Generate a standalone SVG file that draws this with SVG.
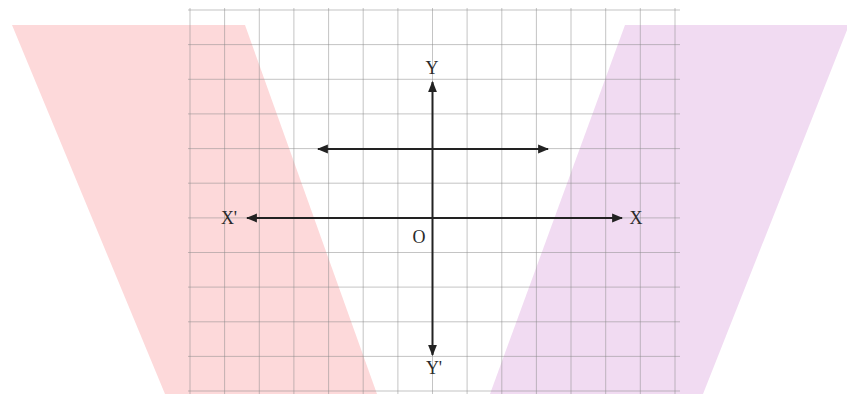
<svg xmlns="http://www.w3.org/2000/svg" width="847" height="394" viewBox="0 0 847 394">
<style>
.grid line{stroke:#8a8a8a;stroke-width:1;stroke-opacity:0.5}
.axis{stroke:#222;stroke-width:2;fill:none}
.lbl{font-family:"Liberation Serif",serif;font-size:18px;fill:#2a2a2a;text-anchor:middle}
</style>
<defs>
<marker id="ah" viewBox="0 0 10 10" refX="9" refY="5" markerWidth="11" markerHeight="11" markerUnits="userSpaceOnUse" orient="auto-start-reverse">
<path d="M0,1 L10,5 L0,9 Z" fill="#222"/>
</marker>
</defs>
<rect width="847" height="394" fill="#fff"/>
<g id="regions">
<polygon id="pink" points="12,25 245,25 377,394 165,394" fill="#fdd9da"/>
<polygon id="purple" points="625,25 849,25 703,394 490,394" fill="#f1dbf2"/>
</g>
<g id="grid" class="grid">
<line x1="190" y1="8" x2="190" y2="394"/>
<line x1="224.6" y1="8" x2="224.6" y2="394"/>
<line x1="259.3" y1="8" x2="259.3" y2="394"/>
<line x1="293.9" y1="8" x2="293.9" y2="394"/>
<line x1="328.6" y1="8" x2="328.6" y2="394"/>
<line x1="363.2" y1="8" x2="363.2" y2="394"/>
<line x1="397.9" y1="8" x2="397.9" y2="394"/>
<line x1="432.5" y1="8" x2="432.5" y2="394"/>
<line x1="467.1" y1="8" x2="467.1" y2="394"/>
<line x1="501.8" y1="8" x2="501.8" y2="394"/>
<line x1="536.4" y1="8" x2="536.4" y2="394"/>
<line x1="571" y1="8" x2="571" y2="394"/>
<line x1="605.7" y1="8" x2="605.7" y2="394"/>
<line x1="640.3" y1="8" x2="640.3" y2="394"/>
<line x1="675" y1="8" x2="675" y2="394"/>
<line x1="188" y1="10" x2="680" y2="10"/>
<line x1="188" y1="44.6" x2="680" y2="44.6"/>
<line x1="188" y1="79.3" x2="680" y2="79.3"/>
<line x1="188" y1="113.9" x2="680" y2="113.9"/>
<line x1="188" y1="148.6" x2="680" y2="148.6"/>
<line x1="188" y1="183.2" x2="680" y2="183.2"/>
<line x1="188" y1="217.9" x2="680" y2="217.9"/>
<line x1="188" y1="252.5" x2="680" y2="252.5"/>
<line x1="188" y1="287.1" x2="680" y2="287.1"/>
<line x1="188" y1="321.8" x2="680" y2="321.8"/>
<line x1="188" y1="356.4" x2="680" y2="356.4"/>
<line x1="188" y1="391" x2="680" y2="391"/>
</g>
<g id="connectors">
<line class="axis" x1="247" y1="218" x2="622" y2="218" marker-start="url(#ah)" marker-end="url(#ah)"/>
<line class="axis" x1="432.5" y1="82" x2="432.5" y2="355" marker-start="url(#ah)" marker-end="url(#ah)"/>
<line class="axis" x1="318" y1="149" x2="548" y2="149" marker-start="url(#ah)" marker-end="url(#ah)"/>
</g>
<g id="labels">
<text id="lY" class="lbl" x="432" y="74">Y</text>
<text id="lYp" class="lbl" x="434" y="374">Y'</text>
<text id="lX" class="lbl" x="636" y="224">X</text>
<text id="lXp" class="lbl" x="229" y="224">X'</text>
<text id="lO" class="lbl" x="419" y="243">O</text>
</g>
</svg>
